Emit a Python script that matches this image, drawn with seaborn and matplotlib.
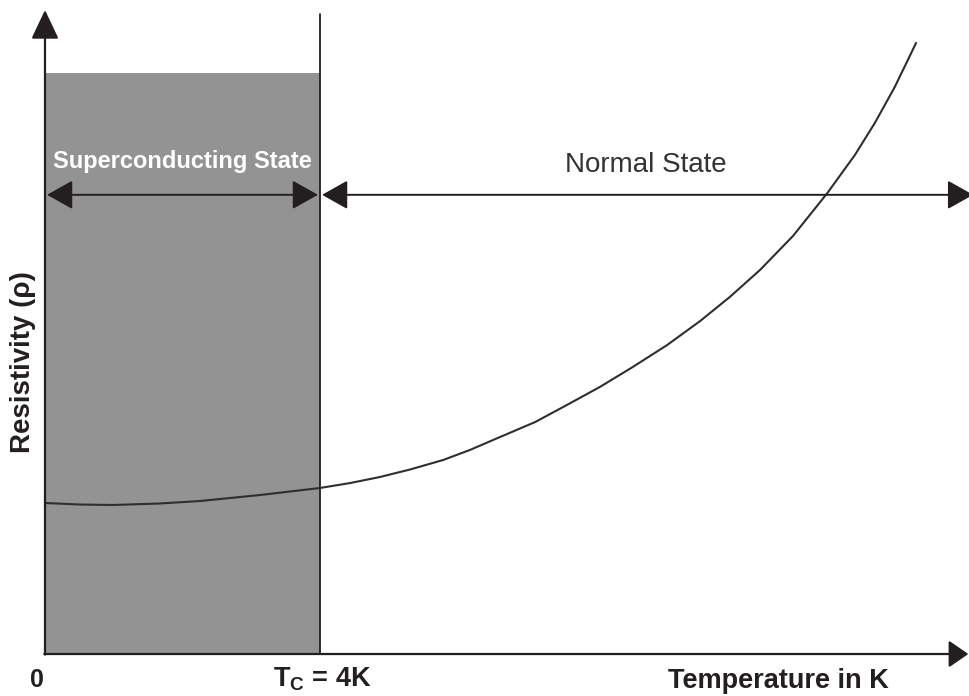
import numpy as np
import pandas as pd
import seaborn as sns
import matplotlib.pyplot as plt

# resistivity curve (temperature in K, resistivity in arbitrary units)
temperature_k = [0.00, 0.51, 0.99, 1.67, 2.26, 3.13, 4.00, 4.44, 4.87, 5.31, 5.79, 6.18, 6.62, 7.13,
                 7.59, 8.07, 8.55, 9.05, 9.53, 9.96, 10.40, 10.88, 11.38, 11.78, 12.07, 12.36, 12.67]
resistivity = [2.345, 2.321, 2.314, 2.337, 2.376, 2.469, 2.578, 2.655, 2.748, 2.865, 3.012, 3.168, 3.370, 3.602,
               3.866, 4.146, 4.457, 4.798, 5.171, 5.543, 5.963, 6.491, 7.158, 7.748, 8.245, 8.804, 9.488]

tc_k = 4.0
sc_top = 9.02
tc_line_top = 9.94
state_arrow_y = 7.13
x_axis_end = 13.43
y_axis_end = 10.0

sns.set_style('white')
plt.rcParams['font.family'] = ['Liberation Sans', 'DejaVu Sans']
plt.rcParams['mathtext.fontset'] = 'custom'
plt.rcParams['mathtext.rm'] = 'Liberation Sans'
plt.rcParams['mathtext.bf'] = 'Liberation Sans:bold'

ink = '#231f20'
grey = '#939393'

fig = plt.figure(figsize=(9.7, 6.96), dpi=100)
ax = fig.add_axes([0, 0, 1, 1])
ax.set_xlim(-0.6545, 13.4545)
ax.set_ylim(-0.652, 10.155)
ax.axis('off')

# superconducting region
ax.fill_between([0, tc_k], 0, sc_top, color=grey, lw=0, zorder=1)
ax.plot([tc_k, tc_k], [0, tc_line_top], color=ink, lw=1.3, zorder=3)

df = pd.DataFrame({'T': temperature_k, 'rho': resistivity})
sns.lineplot(data=df, x='T', y='rho', ax=ax, color='#2e2e2e', lw=1.5, zorder=4)

# axes with arrow heads
ax.annotate('', xy=(0, y_axis_end), xytext=(0, -0.01),
            arrowprops=dict(arrowstyle='-|>,head_length=1.8,head_width=0.85', mutation_scale=10,
                            lw=1.6, color=ink, shrinkA=0, shrinkB=0), zorder=5)
ax.annotate('', xy=(x_axis_end, 0), xytext=(-0.01, 0),
            arrowprops=dict(arrowstyle='-|>,head_length=1.2,head_width=0.83', mutation_scale=10,
                            lw=1.6, color=ink, shrinkA=0, shrinkB=0), zorder=5)

# state arrows
ax.annotate('', xy=(0.03, state_arrow_y), xytext=(3.97, state_arrow_y),
            arrowprops=dict(arrowstyle='<|-|>,head_length=1.6,head_width=0.9', mutation_scale=10,
                            lw=1.4, color=ink, shrinkA=0, shrinkB=0), zorder=5)
ax.annotate('', xy=(4.03, state_arrow_y), xytext=(13.5, state_arrow_y),
            arrowprops=dict(arrowstyle='<|-|>,head_length=1.6,head_width=0.9', mutation_scale=10,
                            lw=1.4, color=ink, shrinkA=0, shrinkB=0), zorder=5)

ax.text(2.0, 7.55, 'Superconducting State', color='white', fontsize=17, fontweight='bold',
        ha='center', va='baseline', zorder=6)
ax.text(8.74, 7.48, 'Normal State', color='#333333', fontsize=20, ha='center', va='baseline', zorder=6)

ax.text(-0.32, 4.53, 'Resistivity (ρ)', color=ink, fontsize=20, fontweight='bold', rotation=90,
        ha='center', va='center')
ax.text(-0.116, -0.512, '0', color=ink, fontsize=18, fontweight='bold', ha='center', va='baseline')
ax.text(3.316, -0.50, r'$\mathbf{T_C}$ = 4K', color=ink, fontsize=19.5, fontweight='bold',
        ha='left', va='baseline')
ax.text(10.66, -0.53, 'Temperature in K', color=ink, fontsize=19.5, fontweight='bold',
        ha='center', va='baseline')

plt.savefig('out.png', dpi=100)
plt.close()
